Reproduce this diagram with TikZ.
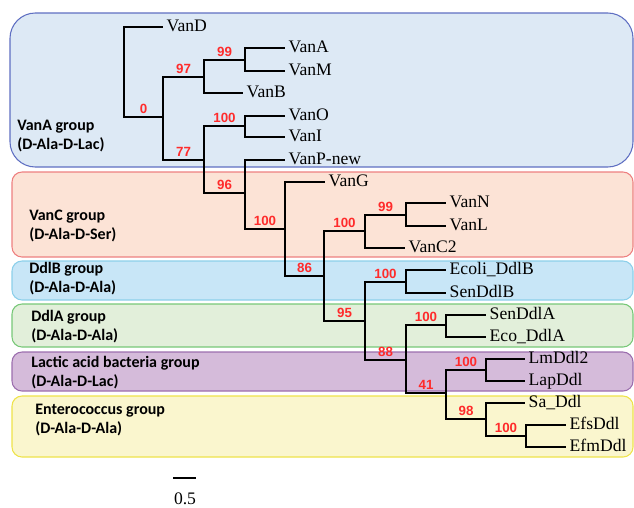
\documentclass[tikz,border=0pt]{standalone}
\usepackage{fontspec}
\setmainfont{Liberation Serif}
\newfontfamily\grpfont{Carlito}
\newfontfamily\bsfont{Liberation Sans}
\definecolor{aFill}{HTML}{DDE9F5}\definecolor{aLine}{HTML}{5F6FC2}
\definecolor{cFill}{HTML}{FCE3D6}\definecolor{cLine}{HTML}{EE8080}
\definecolor{bFill}{HTML}{C8E6F7}\definecolor{bLine}{HTML}{8CCFEA}
\definecolor{dFill}{HTML}{E2EFDA}\definecolor{dLine}{HTML}{78C878}
\definecolor{lFill}{HTML}{D5BBDA}\definecolor{lLine}{HTML}{9C6EAE}
\definecolor{eFill}{HTML}{FAF6CE}\definecolor{eLine}{HTML}{EEE34A}
\definecolor{bsred}{HTML}{FF2B2B}
\tikzset{
  branch/.style={line width=2.1pt, black},
  leaf/.style={anchor=west, inner sep=2.6pt, font=\fontsize{13.2}{14}\selectfont, text height=0.66em, text depth=0pt},
  bs/.style={above, inner sep=1.6pt, text=bsred, font=\bsfont\bfseries\fontsize{10}{10}\selectfont},
  grp/.style={anchor=base west, inner sep=0pt, font=\grpfont\bfseries\fontsize{12}{13}\selectfont},
  grpbox/.style={line width=0.8pt, rounded corners=7.5pt},
}
\begin{document}
\begin{tikzpicture}[x=0.75pt,y=-0.75pt]
\useasboundingbox (0,0) rectangle (634,507);
% group boxes
\draw[grpbox, rounded corners=19pt, fill=aFill, draw=aLine] (10,13) rectangle (633,167);
\draw[grpbox, fill=cFill, draw=cLine] (12,172) rectangle (633,257);
\draw[grpbox, fill=bFill, draw=bLine] (12,261) rectangle (633,300);
\draw[grpbox, fill=dFill, draw=dLine] (12,304) rectangle (633,347);
\draw[grpbox, fill=lFill, draw=lLine] (12,352) rectangle (633,391);
\draw[grpbox, fill=eFill, draw=eLine] (12,396) rectangle (633,457);
% group labels
\node[grp] (gA1) at (17,130) {VanA group};
\node[grp] (gA2) at (17,149) {(D-Ala-D-Lac)};
\node[grp] (gC1) at (29,220) {VanC group};
\node[grp] (gC2) at (29,239) {(D-Ala-D-Ser)};
\node[grp] (gB1) at (29,273) {DdlB group};
\node[grp] (gB2) at (29,292) {(D-Ala-D-Ala)};
\node[grp] (gD1) at (31,321) {DdlA group};
\node[grp] (gD2) at (31,340) {(D-Ala-D-Ala)};
\node[grp] (gL1) at (31,367) {Lactic acid bacteria group};
\node[grp] (gL2) at (31,386) {(D-Ala-D-Lac)};
\node[grp] (gE1) at (35,414) {Enterococcus group};
\node[grp] (gE2) at (35,433) {(D-Ala-D-Ala)};
% internal nodes
\coordinate (root) at (124,72);
\coordinate (n0) at (163,117);
\coordinate (n97) at (204,77);
\coordinate (n99) at (245,60);
\coordinate (n77) at (204,160);
\coordinate (n100a) at (245,126);
\coordinate (n96) at (245,193);
\coordinate (n100b) at (285,229);
\coordinate (n86) at (324,276);
\coordinate (n100c) at (365,231);
\coordinate (n99b) at (406,215);
\coordinate (n95) at (365,321);
\coordinate (n100d) at (406,282);
\coordinate (n88) at (406,360);
\coordinate (n100e) at (446,325);
\coordinate (n41) at (446,393);
\coordinate (n100f) at (486,370);
\coordinate (n98) at (486,419);
\coordinate (n100g) at (526,436);
% leaves
\node[leaf] (VanD) at (163,27) {VanD};
\node[leaf] (VanA) at (285,48) {VanA};
\node[leaf] (VanM) at (285,71) {VanM};
\node[leaf] (VanB) at (243,93) {VanB};
\node[leaf] (VanO) at (285,116) {VanO};
\node[leaf] (VanI) at (285,137) {VanI};
\node[leaf] (VanP) at (285,160) {VanP-new};
\node[leaf] (VanG) at (325,182) {VanG};
\node[leaf] (VanN) at (446,203) {VanN};
\node[leaf] (VanL) at (446,226) {VanL};
\node[leaf] (VanC2) at (405,248) {VanC2};
\node[leaf] (EcoliB) at (446,270) {Ecoli\_DdlB};
\node[leaf] (SenB) at (446,293) {SenDdlB};
\node[leaf] (SenA) at (486,315) {SenDdlA};
\node[leaf] (EcoA) at (486,337) {Eco\_DdlA};
\node[leaf] (Lm) at (525,359) {LmDdl2};
\node[leaf] (Lap) at (525,381) {LapDdl};
\node[leaf] (Sa) at (525,403) {Sa\_Ddl};
\node[leaf] (Efs) at (566,425) {EfsDdl};
\node[leaf] (Efm) at (566,447) {EfmDdl};
% branches
\draw[branch] (root) |- (VanD.west);
\draw[branch] (root) |- node[bs,pos=0.75] (b0) {0} (n0);
\draw[branch] (n0) |- node[bs,pos=0.75] (b97) {97} (n97);
\draw[branch] (n97) |- node[bs,pos=0.75] (b99) {99} (n99);
\draw[branch] (n99) |- (VanA.west);
\draw[branch] (n99) |- (VanM.west);
\draw[branch] (n97) |- (VanB.west);
\draw[branch] (n0) |- node[bs,pos=0.75] (b77) {77} (n77);
\draw[branch] (n77) |- node[bs,pos=0.75] (b100a) {100} (n100a);
\draw[branch] (n100a) |- (VanO.west);
\draw[branch] (n100a) |- (VanI.west);
\draw[branch] (n77) |- node[bs,pos=0.75] (b96) {96} (n96);
\draw[branch] (n96) |- (VanP.west);
\draw[branch] (n96) |- node[bs,pos=0.75] (b100b) {100} (n100b);
\draw[branch] (n100b) |- (VanG.west);
\draw[branch] (n100b) |- node[bs,pos=0.75] (b86) {86} (n86);
\draw[branch] (n86) |- node[bs,pos=0.75] (b100c) {100} (n100c);
\draw[branch] (n100c) |- node[bs,pos=0.75] (b99b) {99} (n99b);
\draw[branch] (n99b) |- (VanN.west);
\draw[branch] (n99b) |- (VanL.west);
\draw[branch] (n100c) |- (VanC2.west);
\draw[branch] (n86) |- node[bs,pos=0.75] (b95) {95} (n95);
\draw[branch] (n95) |- node[bs,pos=0.75] (b100d) {100} (n100d);
\draw[branch] (n100d) |- (EcoliB.west);
\draw[branch] (n100d) |- (SenB.west);
\draw[branch] (n95) |- node[bs,pos=0.75] (b88) {88} (n88);
\draw[branch] (n88) |- node[bs,pos=0.75] (b100e) {100} (n100e);
\draw[branch] (n100e) |- (SenA.west);
\draw[branch] (n100e) |- (EcoA.west);
\draw[branch] (n88) |- node[bs,pos=0.75] (b41) {41} (n41);
\draw[branch] (n41) |- node[bs,pos=0.75] (b100f) {100} (n100f);
\draw[branch] (n100f) |- (Lm.west);
\draw[branch] (n100f) |- (Lap.west);
\draw[branch] (n41) |- node[bs,pos=0.75] (b98) {98} (n98);
\draw[branch] (n98) |- (Sa.west);
\draw[branch] (n98) |- node[bs,pos=0.75] (b100g) {100} (n100g);
\draw[branch] (n100g) |- (Efs.west);
\draw[branch] (n100g) |- (Efm.west);
% scale bar
\coordinate (sbL) at (173,478);
\coordinate (sbR) at (196,478);
\draw[branch] (sbL) -- (sbR);
\node[anchor=base, inner sep=0pt, font=\fontsize{13.2}{14}\selectfont] (sbT) at (185,504) {0.5};
\end{tikzpicture}
\end{document}
